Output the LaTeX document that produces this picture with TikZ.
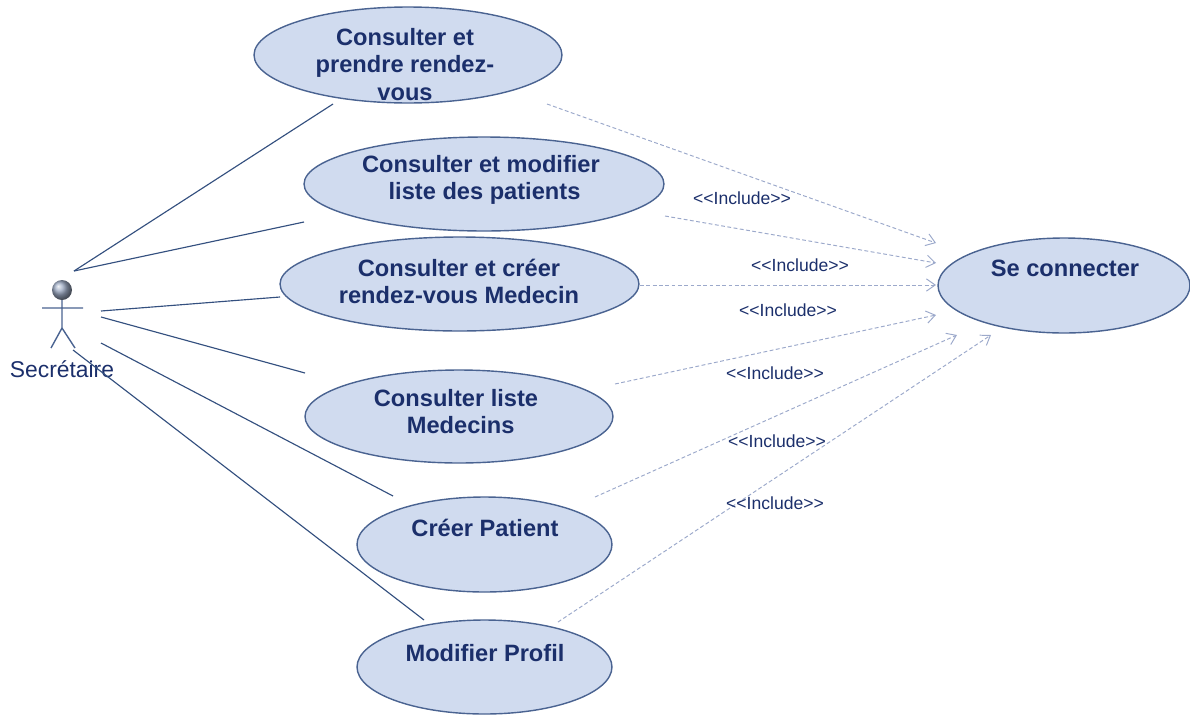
\documentclass[tikz,border=0pt]{standalone}
\usepackage{fontspec}
\setmainfont{Liberation Sans}
\usetikzlibrary{arrows.meta,shapes.geometric}
\definecolor{ink}{HTML}{1B2F6B}
\definecolor{usefill}{HTML}{D0DBEF}
\definecolor{edge}{HTML}{4A6391}
\definecolor{assoc}{HTML}{34507F}
\definecolor{incl}{HTML}{9CA9CB}
\tikzset{
  x=0.02cm,y=-0.02cm,
  usecase/.style={ellipse,draw=edge,fill=usefill,line width=0.8pt,inner sep=0pt,outer sep=0pt},
  casetext/.style={text=ink,font=\fontsize{13.45}{15.4}\selectfont\bfseries,align=center,inner sep=0pt},
  incllabel/.style={text=ink,font=\fontsize{10}{12}\selectfont,inner sep=0pt},
  assocline/.style={draw=assoc,line width=0.65pt},
  incline/.style={draw=incl,line width=0.55pt,dashed,dash pattern=on 2.2pt off 1.4pt,-{Straight Barb[length=5pt,width=7pt]}},
  actorline/.style={draw=edge,line width=0.8pt},
}
\begin{document}
\begin{tikzpicture}
\useasboundingbox (0,0) rectangle (1190,714);
% use cases
\node[usecase,minimum width=6.16cm,minimum height=1.92cm] (a) at (408,55) {};
\node[usecase,minimum width=7.2cm,minimum height=1.88cm] (b) at (484,184) {};
\node[usecase,minimum width=7.18cm,minimum height=1.88cm] (c) at (459.5,284) {};
\node[usecase,minimum width=6.16cm,minimum height=1.86cm] (d) at (459,416.5) {};
\node[usecase,minimum width=5.1cm,minimum height=1.9cm] (e) at (484.5,544.5) {};
\node[usecase,minimum width=5.1cm,minimum height=1.88cm] (f) at (484.5,667) {};
\node[usecase,minimum width=5.04cm,minimum height=1.9cm] (g) at (1064,285.5) {};
% texts
\node[casetext] (ta) at (405,64.5) {Consulter et\\prendre rendez-\\vous};
\node[casetext] (tb) at (481,180) {Consulter et modifier\\\hspace*{0.3em}liste des patients};
\node[casetext] (tc) at (459,281) {Consulter et créer\\rendez-vous Medecin};
\node[casetext] (td) at (456,412) {Consulter liste\\\hspace*{0.4em}Medecins};
\node[casetext] (te) at (485,528) {Créer Patient};
\node[casetext] (tf) at (485,653) {Modifier Profil};
\node[casetext] (tg) at (1065,268) {Se connecter};
% actor
\shade[ball color=edge!55!white] (62,290) circle (10);
\coordinate (neck) at (62,300);
\coordinate (hip) at (62,328);
\coordinate (armL) at (42,308);
\coordinate (armR) at (83,308);
\coordinate (legL) at (51,348);
\coordinate (legR) at (75,348);
\draw[actorline] (neck) -- (hip) (armL) -- (armR) (legL) -- (hip) -- (legR);
\node[text=ink,font=\fontsize{13}{15}\selectfont,inner sep=0pt] (actor) at (62,369) {Secrétaire};
% associations
\coordinate (s1) at (74,271);
\coordinate (s2) at (101,311);
\coordinate (s3) at (101,317);
\coordinate (s4) at (101,343);
\coordinate (s5) at (73,350);
\coordinate (ea) at (333,104);
\coordinate (eb) at (304,222);
\coordinate (ed) at (305,373);
\coordinate (ee) at (393,496);
\coordinate (ef) at (424,620);
\draw[assocline] (s1) -- (ea);
\draw[assocline] (s1) -- (eb);
\draw[assocline] (s2) -- (c.west |- 0,297);
\draw[assocline] (s3) -- (ed);
\draw[assocline] (s4) -- (ee);
\draw[assocline] (s5) -- (ef);
% includes
\coordinate (ia) at (547,104);
\coordinate (ib) at (665,216);
\coordinate (ic) at (640,285);
\coordinate (id) at (615,384);
\coordinate (ie) at (595,497);
\coordinate (if) at (558,622);
\coordinate (ga) at (936,243);
\coordinate (gb) at (936,263);
\coordinate (gc) at (936,285);
\coordinate (gd) at (936,315);
\coordinate (ge) at (957,335);
\coordinate (gf) at (991,335);
\draw[incline] (ia) -- (ga);
\draw[incline] (ib) -- (gb);
\draw[incline] (ic) -- (gc);
\draw[incline] (id) -- (gd);
\draw[incline] (ie) -- (ge);
\draw[incline] (if) -- (gf);
% labels
\node[incllabel] (l1) at (742,198) {<{}<Include>{}>};
\node[incllabel] (l2) at (800,265) {<{}<Include>{}>};
\node[incllabel] (l3) at (788,310) {<{}<Include>{}>};
\node[incllabel] (l4) at (775,373) {<{}<Include>{}>};
\node[incllabel] (l5) at (777,441) {<{}<Include>{}>};
\node[incllabel] (l6) at (775,503) {<{}<Include>{}>};
\end{tikzpicture}
\end{document}
